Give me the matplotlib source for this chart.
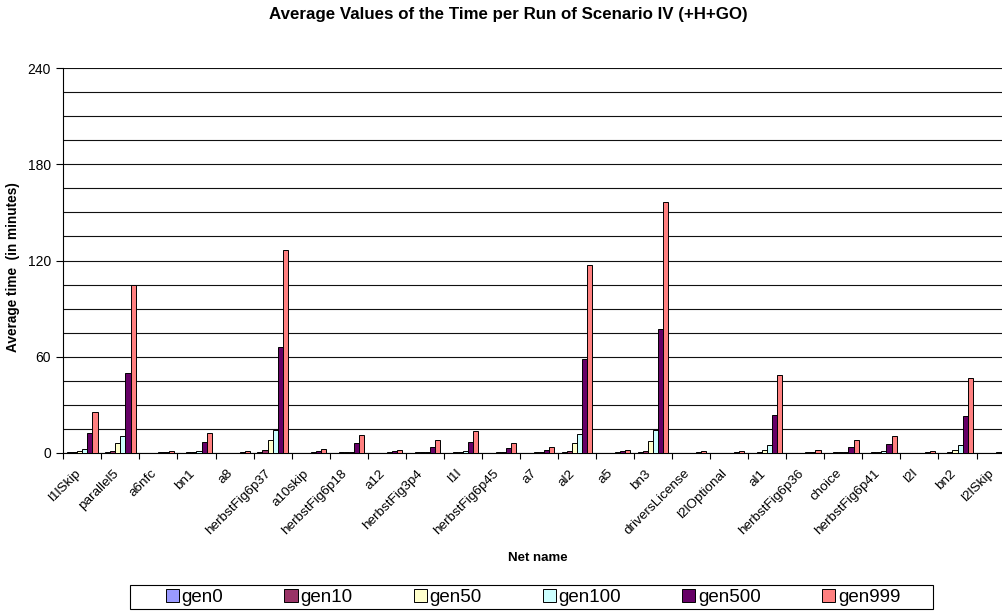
import numpy as np
import matplotlib
matplotlib.use('Agg')
import matplotlib.pyplot as plt
import matplotlib.transforms as mtransforms
from matplotlib.patches import Rectangle

plt.rcParams['font.family'] = ['Liberation Sans', 'DejaVu Sans']

# net names (x categories)
nets = ['l1lSkip', 'parallel5', 'a6nfc', 'bn1', 'a8', 'herbstFig6p37', 'a10skip',
        'herbstFig6p18', 'a12', 'herbstFig3p4', 'l1l', 'herbstFig6p45', 'a7', 'al2',
        'a5', 'bn3', 'driversLicense', 'l2lOptional', 'al1', 'herbstFig6p36',
        'choice', 'herbstFig6p41', 'l2l', 'bn2', 'l2lSkip']

# average time per run (minutes)
gen0 = [0.2, 0.2, 0.0, 0.1, 0.0, 0.2, 0.0, 0.1, 0.0, 0.1, 0.1, 0.0, 0.0, 0.2,
        0.0, 0.2, 0.0, 0.0, 0.1, 0.0, 0.1, 0.1, 0.0, 0.1, 0.0]
gen10 = [0.5, 1.0, 0.1, 0.3, 0.1, 1.7, 0.1, 0.2, 0.1, 0.2, 0.3, 0.1, 0.1, 1.0,
         0.1, 1.0, 0.1, 0.1, 0.6, 0.1, 0.2, 0.3, 0.1, 0.4, 0.1]
gen50 = [1.2, 5.8, 0.1, 0.3, 0.1, 7.7, 0.1, 0.3, 0.1, 0.3, 0.3, 0.2, 0.2, 5.8,
         0.1, 7.1, 0.1, 0.1, 1.9, 0.1, 0.3, 0.3, 0.1, 1.7, 0.1]
gen100 = [2.3, 10.4, 0.2, 1.0, 0.1, 14.2, 0.2, 0.4, 0.2, 0.3, 1.0, 0.3, 0.3, 11.9,
          0.2, 14.2, 0.1, 0.1, 4.6, 0.2, 0.3, 1.0, 0.1, 4.6, 0.2]
gen500 = [12.3, 49.8, 0.5, 6.5, 0.4, 66.0, 1.0, 5.8, 1.0, 3.8, 6.5, 2.9, 1.7, 58.5,
          1.0, 77.3, 0.4, 0.4, 23.8, 0.4, 3.8, 5.2, 0.4, 23.1, 0.5]
gen999 = [25.6, 104.4, 1.1, 12.3, 1.0, 126.5, 2.3, 11.0, 1.7, 7.7, 13.8, 5.8, 3.8, 117.3,
          1.7, 156.3, 1.0, 1.0, 48.3, 1.7, 7.7, 10.6, 1.0, 46.5, 1.0]

series = [gen0, gen10, gen50, gen100, gen500, gen999]
names = ['gen0', 'gen10', 'gen50', 'gen100', 'gen500', 'gen999']
colors = ['#9999FF', '#993366', '#FFFFCC', '#CCFFFF', '#660066', '#FF8080']

W, H = 1003, 615
fig = plt.figure(figsize=(W / 100, H / 100), dpi=100)
# plot area runs past the right edge, like the cropped original
left, right, top, bottom = 63.3, 1014.6, 68.3, 452.7
ax = fig.add_axes([left / W, 1 - bottom / H, (right - left) / W, (bottom - top) / H])

x = np.arange(len(nets))
w = 0.8 / 6
for j, (vals, nm, c) in enumerate(zip(series, names, colors)):
    ax.bar(x + (j - 2.5) * w, vals, width=w, color=c, edgecolor='black',
           linewidth=0.7, label=nm, zorder=3)

ax.set_xlim(-0.5, len(nets) - 0.5)
ax.set_ylim(0, 240)
ax.set_yticks(np.arange(0, 241, 60))
ax.set_yticks(np.arange(0, 241, 15), minor=True)
ax.yaxis.grid(True, which='both', color='#111111', linewidth=0.8, zorder=0)
ax.set_axisbelow(True)
ax.tick_params(axis='y', which='minor', length=0)
ax.tick_params(axis='y', which='major', length=5, width=0.8, labelsize=10, pad=4)

# category ticks sit on the boundaries, labels at centres
ax.set_xticks(np.arange(-0.5, len(nets), 1.0))
ax.set_xticklabels([])
ax.set_xticks(x, minor=True)
ax.set_xticklabels(nets, minor=True, rotation=45, ha='right', rotation_mode='anchor',
                   fontsize=9.7)
ax.tick_params(axis='x', which='major', length=4, width=0.8)
ax.tick_params(axis='x', which='minor', length=0, pad=7)
shift = mtransforms.ScaledTranslation(-8 / 100, -5 / 100, fig.dpi_scale_trans)
for lab in ax.get_xticklabels(minor=True):
    lab.set_transform(lab.get_transform() + shift)

for s in ['top', 'right']:
    ax.spines[s].set_visible(False)
ax.spines['left'].set_linewidth(0.8)
ax.spines['bottom'].set_linewidth(0.8)

fig.text(508 / W, 1 - 15 / H, 'Average Values of the Time per Run of Scenario IV (+H+GO)',
         ha='center', va='center', fontsize=12.2, fontweight='bold')
fig.text(13.5 / W, 1 - 267 / H, 'Average time  (in minutes)', rotation=90,
         ha='center', va='center', fontsize=9.8, fontweight='bold')
fig.text(538 / W, 1 - 558 / H, 'Net name', ha='center', va='center',
         fontsize=9.5, fontweight='bold')

# legend box drawn separately, entries spread inside it
fig.patches.append(Rectangle((130 / W, 1 - 609 / H), (933 - 130) / W, 24 / H,
                             transform=fig.transFigure, facecolor='white',
                             edgecolor='black', linewidth=0.8))
leg = fig.legend(loc='lower left', ncol=6, mode='expand',
                 bbox_to_anchor=(163 / W, 1 - 609 / H, (903 - 163) / W, 24 / H),
                 fontsize=13.5, handlelength=0.7, handleheight=0.7, handletextpad=0.15,
                 borderaxespad=0, borderpad=0.15, frameon=False)

fig.savefig('out.png', dpi=100)
